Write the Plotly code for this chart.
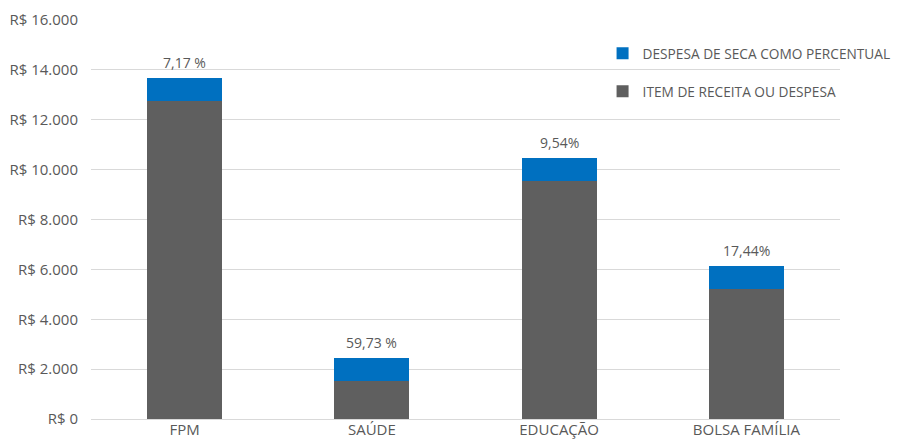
import plotly.graph_objects as go

categories = ["FPM", "SAÚDE", "EDUCAÇÃO", "BOLSA FAMÍLIA"]
item_values = [12750, 1525, 9545, 5220]
seca_values = [915, 915, 915, 915]
pct_labels = ["7,17 %", "59,73 %", "9,54%", "17,44%"]
y_ticks = [0, 2000, 4000, 6000, 8000, 10000, 12000, 14000, 16000]
y_tick_labels = ["R$ 0", "R$ 2.000", "R$ 4.000", "R$ 6.000", "R$ 8.000",
                 "R$ 10.000", "R$ 12.000", "R$ 14.000", "R$ 16.000"]

GREY = "#5f5f5f"
BLUE = "#0070c0"
TXT = "#595959"
FONT = "Open Sans"

fig = go.Figure()
fig.add_trace(go.Bar(x=categories, y=item_values, name="ITEM DE RECEITA OU DESPESA",
                     marker=dict(color=GREY, line=dict(width=0)),
                     legendgroup="b", legendrank=2))
fig.add_trace(go.Bar(x=categories, y=seca_values, name="DESPESA DE SECA COMO PERCENTUAL",
                     marker=dict(color=BLUE, line=dict(width=0)),
                     legendgroup="a", legendrank=1))

for c, a, b, t in zip(categories, item_values, seca_values, pct_labels):
    fig.add_annotation(x=c, y=a + b, text=t, showarrow=False, yanchor="bottom",
                       yshift=4, font=dict(family=FONT, size=14, color=TXT))

fig.update_layout(
    barmode="stack",
    bargap=0.6,
    width=898, height=437,
    margin=dict(l=83, r=66, t=12, b=26, autoexpand=False),
    paper_bgcolor="white", plot_bgcolor="white",
    font=dict(family=FONT, size=14, color=TXT),
    legend=dict(x=0.683, y=0.955, xanchor="left", yanchor="top",
                traceorder="grouped", tracegroupgap=17,
                font=dict(family=FONT, size=13.7, color=TXT),
                bgcolor="rgba(0,0,0,0)", itemwidth=30),
    xaxis=dict(showline=False, ticks="", automargin=False,
               tickfont=dict(size=15, color=TXT)),
    yaxis=dict(range=[0, 16000], tickvals=y_ticks, ticktext=y_tick_labels,
               showgrid=True, gridcolor="#d9d9d9", gridwidth=1,
               zeroline=True, zerolinecolor="#d9d9d9", zerolinewidth=1,
               ticks="", ticklabelstandoff=12, automargin=False,
               tickfont=dict(size=15, color=TXT)),
    showlegend=True,
)

fig.write_html("out.html")
